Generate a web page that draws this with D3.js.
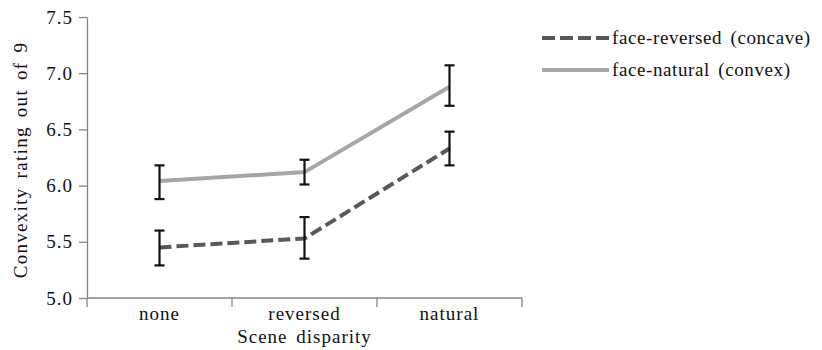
<!DOCTYPE html>
<html>
<head>
<meta charset="utf-8">
<script src="https://cdn.jsdelivr.net/npm/d3@7"></script>
<style>
  body { margin: 0; background: #fff; }
</style>
</head>
<body>
<div id="wrapper"></div>
<script>
// data
const categories = ["none", "reversed", "natural"]
const seriesNames = ["face-reversed (concave)", "face-natural (convex)"]
const concaveMean = [5.45, 5.53, 6.33]
const concaveLow = [5.29, 5.35, 6.18]
const concaveHigh = [5.60, 5.72, 6.48]
const convexMean = [6.04, 6.12, 6.88]
const convexLow = [5.88, 6.01, 6.71]
const convexHigh = [6.18, 6.23, 7.07]
const yTicks = [5.0, 5.5, 6.0, 6.5, 7.0, 7.5]

const serif = "Liberation Serif"
const fontSize = 19

function drawChart() {
  const dimensions = {
    width: 822,
    height: 350,
    margin: { top: 17, right: 300, bottom: 52, left: 87 },
  }
  dimensions.boundedWidth = dimensions.width - dimensions.margin.left - dimensions.margin.right
  dimensions.boundedHeight = dimensions.height - dimensions.margin.top - dimensions.margin.bottom

  const series = [
    { name: seriesNames[0], mean: concaveMean, low: concaveLow, high: concaveHigh, color: "#595959", dash: "12,5" },
    { name: seriesNames[1], mean: convexMean, low: convexLow, high: convexHigh, color: "#a6a6a6", dash: null },
  ]

  const svg = d3.select("#wrapper").append("svg")
      .attr("width", dimensions.width)
      .attr("height", dimensions.height)
      .attr("font-family", serif)

  const bounds = svg.append("g")
      .attr("transform", `translate(${dimensions.margin.left},${dimensions.margin.top})`)

  const xScale = d3.scaleBand()
      .domain(categories)
      .range([0, 435])
      .padding(0)

  const yScale = d3.scaleLinear()
      .domain([5, 7.5])
      .range([281, 0])

  const axisColor = "#868686"
  const xMid = d => xScale(d) + xScale.bandwidth() / 2

  // y axis
  const yAxis = bounds.append("g")
      .call(d3.axisLeft(yScale).tickValues(yTicks).tickSize(8).tickSizeOuter(0).tickPadding(6)
        .tickFormat(d3.format(".1f")))
      .attr("font-family", serif)
      .attr("font-size", fontSize)
  yAxis.select(".domain").attr("stroke", axisColor).attr("stroke-width", 1.3)
  yAxis.selectAll(".tick line").attr("stroke", axisColor).attr("stroke-width", 1.3)
  yAxis.selectAll(".tick text")
      .attr("font-family", serif)
      .attr("letter-spacing", 1)
      .attr("fill", "#111")

  // x axis with ticks at band boundaries
  const xAxis = bounds.append("g").attr("transform", `translate(0,${yScale(5)})`)
  const bx = xScale.range()
  xAxis.append("line")
      .attr("x1", bx[0]).attr("x2", bx[1])
      .attr("stroke", axisColor).attr("stroke-width", 1.3)
  const edges = categories.map(c => xScale(c)).concat([bx[1]])
  xAxis.selectAll(".btick").data(edges).enter().append("line")
      .attr("x1", d => d).attr("x2", d => d)
      .attr("y1", 0).attr("y2", 9)
      .attr("stroke", axisColor).attr("stroke-width", 1.3)
  xAxis.selectAll(".clabel").data(categories).enter().append("text")
      .attr("x", d => xMid(d))
      .attr("y", 22)
      .attr("text-anchor", "middle")
      .attr("font-family", serif)
      .attr("font-size", fontSize)
      .attr("letter-spacing", 1)
      .attr("fill", "#111")
      .text(d => d)

  // axis titles
  bounds.append("text")
      .attr("x", xScale.range()[1] / 2)
      .attr("y", yScale(5) + 45)
      .attr("text-anchor", "middle")
      .attr("font-family", serif)
      .attr("font-size", fontSize)
      .attr("letter-spacing", 1)
      .attr("word-spacing", 3)
      .attr("fill", "#111")
      .text("Scene disparity")

  svg.append("text")
      .attr("transform", `translate(27,160) rotate(-90)`)
      .attr("text-anchor", "middle")
      .attr("font-family", serif)
      .attr("font-size", fontSize)
      .attr("letter-spacing", 1.3)
      .attr("word-spacing", 3)
      .attr("fill", "#111")
      .text("Convexity rating out of 9")

  // lines
  const lineGen = d3.line()
      .x((d, i) => xMid(categories[i]))
      .y(d => yScale(d))

  series.forEach(s => {
    bounds.append("path")
        .datum(s.mean)
        .attr("d", lineGen)
        .attr("fill", "none")
        .attr("stroke", s.color)
        .attr("stroke-width", 4)
        .attr("stroke-dasharray", s.dash)
  })

  // error bars
  const cap = 5
  series.forEach(s => {
    const g = bounds.append("g")
    categories.forEach((c, i) => {
      const x = xMid(c)
      g.append("line")
          .attr("x1", x).attr("x2", x)
          .attr("y1", yScale(s.low[i])).attr("y2", yScale(s.high[i]))
          .attr("stroke", "#111").attr("stroke-width", 2.2)
      ;[s.low[i], s.high[i]].forEach(v => {
        g.append("line")
            .attr("x1", x - cap).attr("x2", x + cap)
            .attr("y1", yScale(v)).attr("y2", yScale(v))
            .attr("stroke", "#111").attr("stroke-width", 2.2)
      })
    })
  })

  // legend
  const legend = svg.append("g").attr("transform", "translate(542,38)")
  series.forEach((s, i) => {
    const row = legend.append("g").attr("transform", `translate(0,${i * 32})`)
    row.append("line")
        .attr("x1", 0).attr("x2", 67)
        .attr("stroke", s.color)
        .attr("stroke-width", 4)
        .attr("stroke-dasharray", s.dash ? "13,5" : null)
    row.append("text")
        .attr("x", 70)
        .attr("y", 6)
        .attr("font-family", serif)
        .attr("font-size", fontSize)
        .attr("letter-spacing", 0.6)
        .attr("word-spacing", 3)
        .attr("fill", "#111")
        .text(s.name)
  })
}
drawChart()
</script>
</body>
</html>
